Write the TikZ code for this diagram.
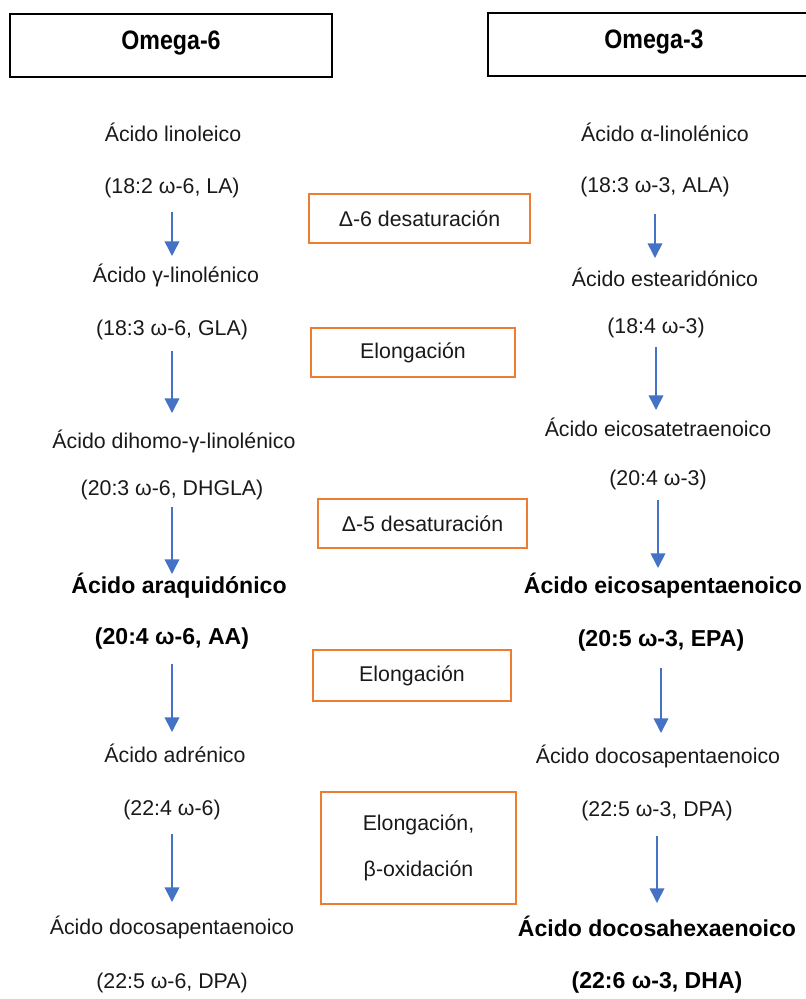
\documentclass[tikz,border=0pt]{standalone}
\usepackage{fontspec}
\setmainfont{Liberation Sans}
\newfontfamily\narrowfont[FakeStretch=0.87]{Liberation Sans}
\usetikzlibrary{arrows.meta}
\definecolor{flowblue}{HTML}{4472C4}
\definecolor{enzorange}{HTML}{ED7D31}
\tikzstyle{acid}=[inner sep=0pt,text height=11.2pt,text depth=3.2pt,text=black!90,font=\fontsize{16}{19}\selectfont]
\tikzstyle{keyacid}=[acid,text=black,text height=12.1pt,text depth=3.5pt,font=\fontsize{17.3}{20}\selectfont\bfseries]
\tikzstyle{family}=[draw=black,line width=1.6pt,minimum width=241.5pt,minimum height=47.25pt,text height=12pt,text depth=6pt,font=\narrowfont\fontsize{20}{24}\selectfont\bfseries]
\tikzstyle{enzyme}=[draw=enzorange,line width=1.6pt,text=black!90,align=center,font=\fontsize{16}{34.5}\selectfont]
\tikzstyle{flow}=[draw=flowblue,line width=1.2pt,-{Triangle[width=11pt,length=11pt]}]

\begin{document}
\begin{tikzpicture}[x=0.75pt,y=-0.75pt]
  \useasboundingbox (0,0) rectangle (806,999);

  % families
  \node[family] (om6) at (171,45.5) {Omega-6};
  \node[family,minimum width=249pt] (om3) at (654,44.5) {Omega-3};

  % omega-6 column
  \node[acid] (l1n) at (173,136) {Ácido linoleico};
  \node[acid] (l1a) at (172,188) {(18:2 ω-6, LA)};
  \node[acid] (l2n) at (176,277) {Ácido γ-linolénico};
  \node[acid] (l2a) at (172,330) {(18:3 ω-6, GLA)};
  \node[acid] (l3n) at (174,443) {Ácido dihomo-γ-linolénico};
  \node[acid] (l3a) at (172,490) {(20:3 ω-6, DHGLA)};
  \node[keyacid] (l4n) at (179,588) {Ácido araquidónico};
  \node[keyacid] (l4a) at (172,639) {(20:4 ω-6, AA)};
  \node[acid] (l5n) at (175,757) {Ácido adrénico};
  \node[acid] (l5a) at (172,810) {(22:4 ω-6)};
  \node[acid] (l6n) at (172,929) {Ácido docosapentaenoico};
  \node[acid] (l6a) at (172,983) {(22:5 ω-6, DPA)};

  % omega-3 column
  \node[acid] (r1n) at (665,136) {Ácido α-linolénico};
  \node[acid] (r1a) at (655,187) {(18:3 ω-3, ALA)};
  \node[acid] (r2n) at (665,281) {Ácido estearidónico};
  \node[acid] (r2a) at (656,328) {(18:4 ω-3)};
  \node[acid] (r3n) at (658,431) {Ácido eicosatetraenoico};
  \node[acid] (r3a) at (658,480) {(20:4 ω-3)};
  \node[keyacid] (r4n) at (663,588) {Ácido eicosapentaenoico};
  \node[keyacid] (r4a) at (661,641) {(20:5 ω-3, EPA)};
  \node[acid] (r5n) at (658,758) {Ácido docosapentaenoico};
  \node[acid] (r5a) at (657,811) {(22:5 ω-3, DPA)};
  \node[keyacid] (r6n) at (657,931) {Ácido docosahexaenoico};
  \node[keyacid] (r6a) at (657,983) {(22:6 ω-3, DHA)};

  % enzymes
  \node[enzyme,minimum width=165.75pt,minimum height=36.75pt] (d6) at (419.5,218.5) {Δ-6 desaturación};
  \node[enzyme,minimum width=153pt,minimum height=36.75pt] (el1) at (413,352.5) {Elongación};
  \node[enzyme,minimum width=156.75pt,minimum height=36.75pt] (d5) at (422.5,523.5) {Δ-5 desaturación};
  \node[enzyme,minimum width=148.5pt,minimum height=38.25pt] (el2) at (412,675.5) {Elongación};
  \node[enzyme,minimum width=146.25pt,minimum height=84pt] (el3) at (418.5,848) {Elongación,\\β-oxidación};

  \foreach \from/\to/\s/\e in {l1a/l2n/18pt/15.75pt, l2a/l3n/15.75pt/22.5pt,
      l3a/l4n/12.75pt/10.5pt, l4a/l5n/18.75pt/18.75pt, l5a/l6n/18pt/20.25pt,
      r1a/r2n/20.25pt/17.25pt, r2a/r3n/14.25pt/15.75pt, r3a/r4n/15pt/15pt,
      r4a/r5n/20.25pt/18.75pt, r5a/r6n/18.75pt/21pt}
    \draw[flow,shorten <=\s,shorten >=\e] (\from.center) -- (\from |- \to);

\end{tikzpicture}
\end{document}
